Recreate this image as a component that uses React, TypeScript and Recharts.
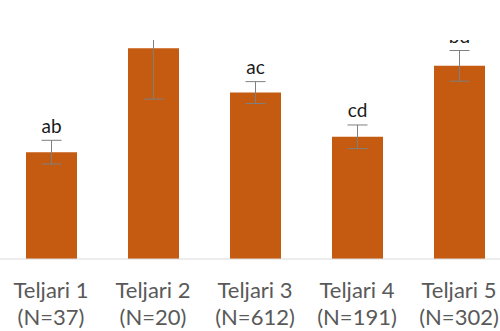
import React from "react";
import { BarChart, Bar, XAxis, YAxis, ErrorBar, LabelList } from "recharts";

const categories = ["Teljari 1", "Teljari 2", "Teljari 3", "Teljari 4", "Teljari 5"];
const counts = [37, 20, 612, 191, 302];
const means = [2.44, 4.81, 3.8, 2.79, 4.41];
const errors = [0.27, 1.16, 0.25, 0.27, 0.35];
const letters = ["ab", "", "ac", "cd", "bd"];

const data = categories.map((name, i) => ({
  name,
  n: counts[i],
  mean: means[i],
  err: errors[i],
  letter: letters[i],
}));

function CategoryTick({ x, y, payload, index }: any) {
  return (
    <text
      x={x}
      y={y}
      textAnchor="middle"
      fill="#595959"
      fontSize={22}
      fontFamily="Lato, sans-serif"
    >
      <tspan x={x} dy={39}>
        {payload.value}
      </tspan>
      <tspan x={x} dy={27}>
        (N={counts[index]})
      </tspan>
    </text>
  );
}

function LetterLabel({ x, y, width, height, value, index }: any) {
  if (!value) return null;
  // pixels per unit from the bar itself, so the label sits above the error bar
  const pxPerUnit = height / means[index];
  const top = y - errors[index] * pxPerUnit;
  return (
    <text
      x={x + width / 2}
      y={top - 7.5}
      textAnchor="middle"
      fill="#1a1a1a"
      fontSize={19}
      fontFamily="Lato, sans-serif"
    >
      {value}
    </text>
  );
}

export default function App() {
  return (
    <div
      style={{
        position: "absolute",
        left: 0,
        top: 0,
        width: 500,
        height: 331,
        overflow: "hidden",
        background: "#fff",
      }}
    >
      {/* plot area clips at the top, like the original */}
      <div
        style={{
          position: "absolute",
          left: 0,
          top: 40,
          width: 500,
          height: 291,
          overflow: "hidden",
        }}
      >
        <div style={{ position: "absolute", left: 0, top: -40 }}>
          <BarChart
            width={510}
            height={331}
            data={data}
            margin={{ top: 40, right: 0, bottom: 0, left: 0 }}
          >
            <XAxis
              dataKey="name"
              height={72}
              axisLine={{ stroke: "#d9d9d9" }}
              tickLine={false}
              tickSize={0}
              tickMargin={0}
              interval={0}
              tick={<CategoryTick />}
            />
            <YAxis hide domain={[0, 5]} allowDataOverflow />
            <Bar dataKey="mean" fill="#c55a11" barSize={51} isAnimationActive={false}>
              <ErrorBar dataKey="err" width={10} stroke="#7f7f7f" strokeWidth={1} />
              <LabelList dataKey="letter" content={<LetterLabel />} />
            </Bar>
          </BarChart>
        </div>
      </div>
    </div>
  );
}
